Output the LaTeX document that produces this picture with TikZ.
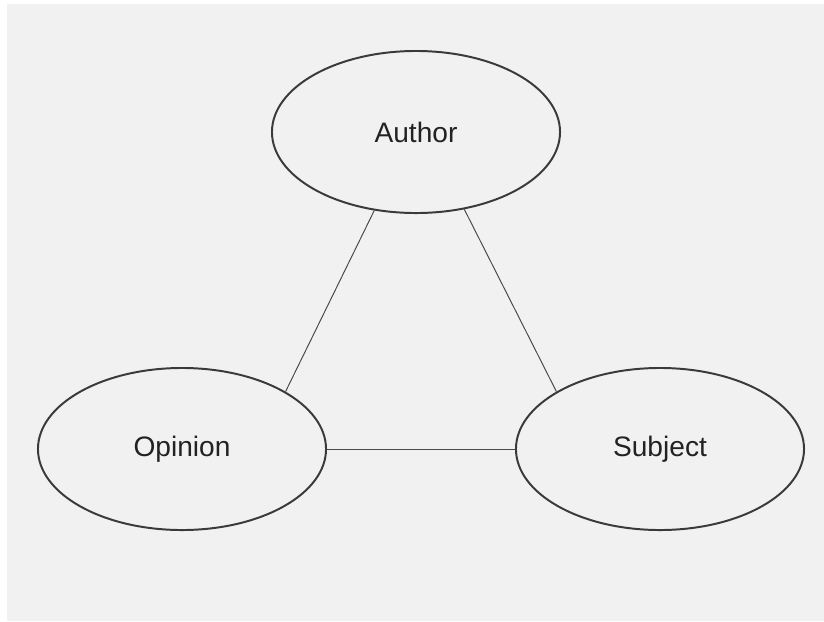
\documentclass[tikz,border=0pt]{standalone}
\usepackage{fontspec}
\setmainfont{Liberation Sans}
\usetikzlibrary{shapes.geometric}
\definecolor{bggray}{HTML}{F1F1F1}
\definecolor{edgegray}{HTML}{3A3A3A}
\definecolor{linegray}{HTML}{4A4A4A}
\definecolor{textgray}{HTML}{222222}

\begin{document}
\begin{tikzpicture}[x=0.025cm, y=-0.025cm,
  bubble/.style={ellipse, draw=edgegray, line width=1.4pt, inner sep=0pt,
    minimum width=7.2cm, minimum height=4.05cm, text=textgray,
    font=\fontsize{20}{24}\selectfont},
  link/.style={draw=linegray, line width=0.7pt}]
  % Frame
  \useasboundingbox (0,0) rectangle (824,621);
  \fill[bggray] (7,4) rectangle (824,621);
  % Nodes
  \node (author) [bubble] at (416, 132) {Author};
  \node (opinion) [bubble] at (182, 449) {Opinion};
  \node (subject) [bubble] at (660, 449) {Subject};
  % Lines
  \draw[link] (author.242) -- (opinion.29);
  \draw[link] (author.302) -- (subject.151);
  \draw[link] (opinion) -- (subject);
\end{tikzpicture}
\end{document}
